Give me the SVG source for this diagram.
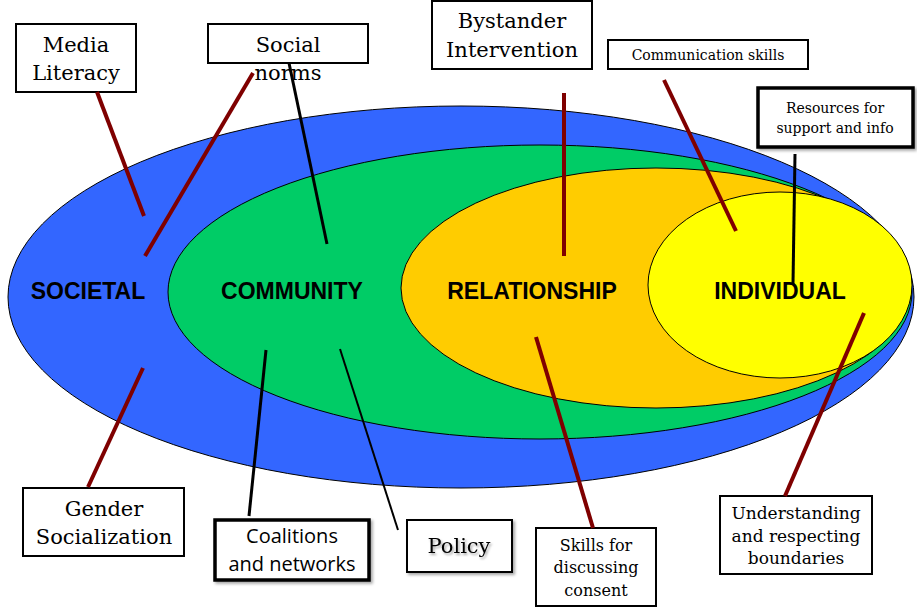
<svg xmlns="http://www.w3.org/2000/svg" width="917" height="607" viewBox="0 0 917 607">
<defs>
<filter id="sh" x="-20%" y="-20%" width="150%" height="150%">
<feDropShadow dx="2" dy="2" stdDeviation="1.5" flood-color="#000" flood-opacity="0.35"/>
</filter>
<filter id="tsh" x="-20%" y="-30%" width="150%" height="170%">
<feDropShadow dx="1.5" dy="2" stdDeviation="1.2" flood-color="#000" flood-opacity="0.35"/>
</filter>
</defs>
<style>
.ell{stroke:#000;stroke-width:1}
.lvl{font-family:"Liberation Sans",Arial,sans-serif;font-weight:bold;font-size:23px;fill:#000;text-anchor:middle}
.box{fill:#fff;stroke:#000;stroke-width:2}
.boxb{fill:#fff;stroke:#000;stroke-width:3.5}
.t{font-family:"DejaVu Serif",serif;fill:#000;text-anchor:middle}
.s{font-family:"Open Sans",sans-serif;fill:#000;text-anchor:middle}
.red{stroke:#7f0000;stroke-width:4;fill:none}
.blk{stroke:#000;stroke-width:3;fill:none}
.blk2{stroke:#000;stroke-width:2;fill:none}
</style>
<g id="societal">
<ellipse class="ell" cx="461" cy="297" rx="453" ry="191" fill="#3366ff"/>
<text class="lvl" x="88" y="299">SOCIETAL</text>
</g>
<g id="community">
<ellipse class="ell" cx="540" cy="292" rx="372" ry="147" fill="#00cc66"/>
<text class="lvl" x="292" y="299">COMMUNITY</text>
</g>
<g id="relationship">
<ellipse class="ell" cx="656" cy="288" rx="255" ry="120" fill="#ffcc00"/>
<text class="lvl" x="532" y="299">RELATIONSHIP</text>
</g>
<g id="individual">
<ellipse class="ell" cx="780" cy="285" rx="132" ry="93" fill="#ffff00"/>
<text class="lvl" x="780" y="299">INDIVIDUAL</text>
</g>
<g id="media-literacy">
<rect class="box" x="16" y="24" width="120" height="68"/>
<text class="t" font-size="21" x="76" y="52">Media</text>
<text class="t" font-size="21" x="76" y="80">Literacy</text>
</g>
<g id="social-norms">
<rect class="box" x="208" y="24" width="160" height="39"/>
<text class="t" font-size="21" x="288" y="52">Social</text>
<text class="t" font-size="21" x="288" y="80">norms</text>
</g>
<g id="bystander">
<rect class="box" x="432" y="1" width="160" height="68"/>
<text class="t" font-size="21" x="512" y="28">Bystander</text>
<text class="t" font-size="21" x="512" y="57">Intervention</text>
</g>
<g id="communication">
<rect class="box" x="608" y="40" width="200" height="29"/>
<text class="t" font-size="14" x="708" y="60">Communication skills</text>
</g>
<g id="resources">
<rect class="boxb" x="758" y="88" width="155" height="59" filter="url(#sh)"/>
<text class="t" font-size="14" x="835" y="113">Resources for</text>
<text class="t" font-size="14" x="835" y="133">support and info</text>
</g>
<g id="gender">
<rect class="box" x="23" y="488" width="161" height="68"/>
<text class="t" font-size="21" x="104" y="516">Gender</text>
<text class="t" font-size="21" x="104" y="544">Socialization</text>
</g>
<g id="coalitions">
<rect class="boxb" x="215" y="520" width="154" height="60" filter="url(#sh)"/>
<text class="s" font-size="20" x="292" y="543">Coalitions</text>
<text class="s" font-size="20" x="292" y="571">and networks</text>
</g>
<g id="policy">
<rect class="box" x="407" y="520" width="105" height="52" filter="url(#sh)"/>
<text class="t" font-size="21" x="459" y="553" filter="url(#tsh)">Policy</text>
</g>
<g id="skills">
<rect class="box" x="536" y="528" width="120" height="78"/>
<text class="t" font-size="16" x="596" y="551">Skills for</text>
<text class="t" font-size="16" x="596" y="573">discussing</text>
<text class="t" font-size="16" x="596" y="596">consent</text>
</g>
<g id="boundaries">
<rect class="box" x="720" y="496" width="152" height="78"/>
<text class="t" font-size="17" x="796" y="519">Understanding</text>
<text class="t" font-size="17" x="796" y="542">and respecting</text>
<text class="t" font-size="17" x="796" y="564">boundaries</text>
</g>
<g id="connectors">
<line class="red" x1="97" y1="92" x2="144" y2="216"/>
<line class="red" x1="253" y1="73" x2="145" y2="256"/>
<line class="blk" x1="289" y1="63" x2="327" y2="244"/>
<line class="red" x1="564" y1="93" x2="564" y2="256"/>
<line class="red" x1="664" y1="80" x2="736" y2="231"/>
<line class="blk" x1="795" y1="154" x2="793" y2="284"/>
<line class="red" x1="88" y1="487" x2="143" y2="368"/>
<line class="blk" x1="249" y1="516" x2="266" y2="350"/>
<line class="blk2" x1="340" y1="349" x2="398" y2="530"/>
<line class="red" x1="536" y1="337" x2="593" y2="528"/>
<line class="red" x1="864" y1="313" x2="785" y2="496"/>
</g>
</svg>
